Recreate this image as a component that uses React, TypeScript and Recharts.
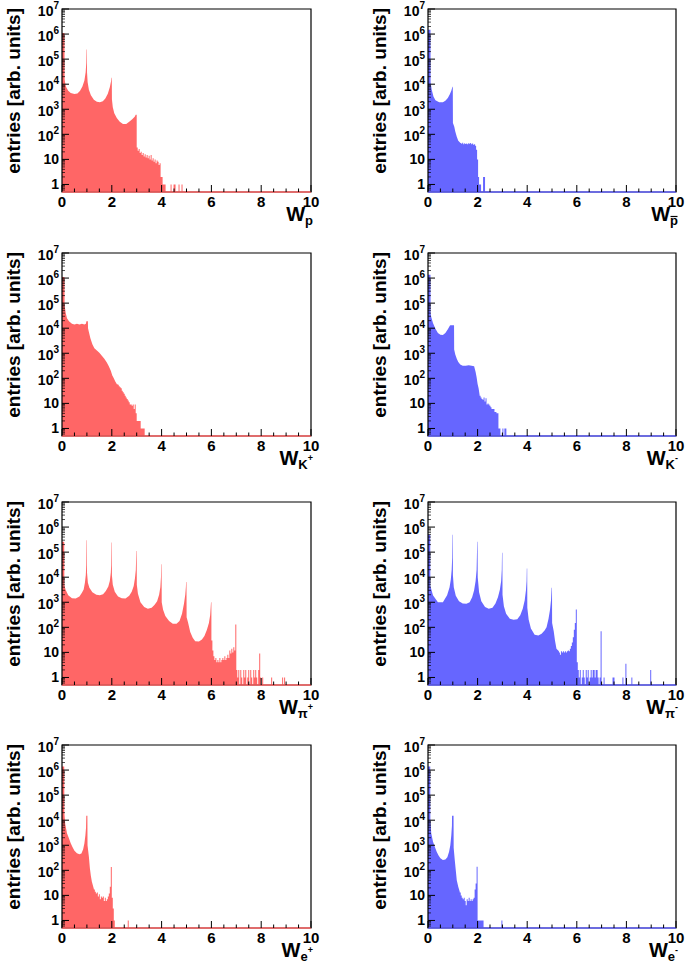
import React from 'react';
import { AreaChart, Area, XAxis, YAxis, ReferenceArea, ReferenceLine } from 'recharts';

type Pt = [number, number | null];

const RED = '#ff6666';
const BLUE = '#6666ff';
const FONT = '"Liberation Sans", Arial, Helvetica, sans-serif';

const Y_MIN = 0.5;
const Y_MAX = 1e7;
const X_MIN = 0;
const X_MAX = 10;
const X_TICKS = [0, 0.5, 1, 1.5, 2, 2.5, 3, 3.5, 4, 4.5, 5, 5.5, 6, 6.5, 7, 7.5, 8, 8.5, 9, 9.5, 10];
const X_LABELED = [0, 2, 4, 6, 8, 10];
const Y_MAJOR = [1, 10, 100, 1e3, 1e4, 1e5, 1e6, 1e7];
const Y_MAJOR_EXP = [0, 1, 2, 3, 4, 5, 6, 7];
const Y_MINOR_MULT = [2, 3, 4, 5, 6, 7, 8, 9];
const Y_BELOW_ONE = [0.6, 0.7, 0.8, 0.9];
const Y_TITLE = 'entries [arb. units]';
const TAIL_BIN = 0.04;

// ---------- p (red) ----------
const P_BODY: Pt[] = [
  [0, 1.1e6], [0.1, 1.1e6], [0.105, 1.6e4], [0.13, 1.1e4], [0.17, 7.5e3], [0.25, 5.5e3],
  [0.35, 4.5e3], [0.5, 4.1e3], [0.62, 4.3e3], [0.72, 5.3e3], [0.82, 8e3], [0.9, 1.4e4], [0.95, 3e4],
  [0.975, 7e4], [0.985, 2.4e5], [1.0, 2.4e5], [1.005, 3e4], [1.03, 1.2e4], [1.08, 6e3], [1.16, 3.6e3],
  [1.28, 2.4e3], [1.4, 2e3], [1.52, 1.9e3], [1.64, 2.1e3], [1.74, 2.7e3], [1.84, 4.2e3], [1.92, 7.5e3],
  [1.97, 1.3e4], [1.985, 1.8e4], [2.0, 1.8e4], [2.005, 2.5e3], [2.04, 1.2e3], [2.1, 7e2], [2.2, 4.5e2],
  [2.32, 3.2e2], [2.45, 2.6e2], [2.58, 2.6e2], [2.7, 3.2e2], [2.82, 4e2], [2.92, 5e2], [2.96, 6e2], [3.0, 6e2],
];
const P_TAIL_START = 3.0;
const P_TAIL = [30, 22, 26, 18, 20, 15, 18, 13, 16, 12, 15, 11, 14, 10, 15, 9, 11, 8, 10, 7, 9, 8, 6, 7, 2, 2, 1, 1, 1, 0, 0, 0, 0, 0, 1, 0, 0, 1, 1, 0, 0, 0, 1, 0, 0, 1];

// ---------- p-bar (blue) ----------
const PBAR_BODY: Pt[] = [
  [0, 1.5e6], [0.1, 1.5e6], [0.105, 1.2e4], [0.15, 6e3], [0.22, 3.2e3],
  [0.3, 2.3e3], [0.45, 1.9e3], [0.6, 1.9e3], [0.7, 2.2e3], [0.8, 2.8e3], [0.88, 4e3], [0.94, 5.5e3],
  [0.98, 7.5e3], [1.0, 8e3], [1.005, 2.8e2], [1.06, 2e2], [1.1, 1.3e2], [1.16, 80], [1.22, 55], [1.3, 46],
];
const PBAR_TAIL_START = 1.3;
const PBAR_TAIL = [45, 42, 46, 40, 44, 41, 43, 40, 44, 42, 45, 40, 43, 38, 40, 35, 24, 10, 2, 1, 1, 0, 0, 2, 2];

// ---------- K+ (red) ----------
const KP_BODY: Pt[] = [
  [0, 1.1e6], [0.1, 1.1e6], [0.105, 8e4], [0.15, 4e4], [0.2, 2.5e4], [0.28, 1.9e4],
  [0.4, 1.5e4], [0.5, 1.4e4], [0.6, 1.5e4], [0.7, 1.4e4], [0.8, 1.5e4], [0.9, 1.4e4], [0.96, 1.5e4],
  [0.98, 1.9e4], [1.04, 1.9e4], [1.045, 1e4], [1.08, 7e3], [1.14, 4e3], [1.22, 2.3e3], [1.3, 1.6e3],
  [1.4, 1.3e3], [1.5, 1.05e3], [1.6, 8e2], [1.7, 6e2], [1.8, 4.3e2], [1.88, 3e2], [1.96, 2e2],
  [2.02, 1.3e2], [2.08, 1e2], [2.14, 75], [2.2, 60],
];
const KP_TAIL_START = 2.2;
const KP_TAIL = [58, 55, 48, 44, 40, 32, 28, 24, 20, 17, 15, 13, 11, 9, 9, 8, 9, 6, 9, 4, 2, 2, 2, 2, 1, 1, 1, 1];

// ---------- K- (blue) ----------
const KM_BODY: Pt[] = [
  [0, 1.35e6], [0.1, 1.35e6], [0.105, 4e4], [0.13, 2.8e4], [0.2, 1.6e4], [0.3, 9.5e3],
  [0.4, 6.5e3], [0.5, 5.5e3], [0.6, 5.3e3], [0.7, 6.5e3], [0.8, 9e3], [0.88, 1.25e4], [0.9, 1.3e4],
  [1.05, 1.3e4], [1.055, 1.4e3], [1.1, 9e2], [1.16, 6e2], [1.22, 4.5e2], [1.3, 3.6e2], [1.4, 3.2e2],
  [1.52, 3.2e2], [1.64, 3.3e2], [1.76, 3.2e2], [1.86, 3e2], [1.92, 1.8e2], [1.96, 1.1e2], [2.0, 60],
  [2.04, 40], [2.08, 22],
];
const KM_TAIL_START = 2.08;
const KM_TAIL = [20, 17, 15, 14, 17, 12, 16, 9, 10, 9, 8, 7, 6, 6, 6, 4.5, 4.5, 4, 4, 1, 1, 0, 0, 1, 0, 1, 1];

// ---------- pi+ (red) ----------
const PIP_BODY: Pt[] = [
  [0, 2.6e5], [0.09, 2.6e5], [0.095, 5e3], [0.14, 3.2e3], [0.25, 1.9e3], [0.4, 1.45e3],
  [0.55, 1.4e3], [0.7, 1.7e3], [0.8, 2.4e3], [0.87, 3.2e3], [0.92, 6e3], [0.955, 1.2e4], [0.975, 3e4],
  [0.985, 3e5], [1.0, 3e5], [1.005, 1.5e4], [1.04, 6e3], [1.1, 3.8e3], [1.22, 2.5e3], [1.38, 2e3],
  [1.52, 1.9e3], [1.65, 2.1e3], [1.76, 2.8e3], [1.86, 4.3e3], [1.92, 7e3], [1.96, 1.5e4], [1.975, 3e4],
  [1.985, 2.4e5], [2.0, 2.4e5], [2.005, 1.2e4], [2.04, 5e3], [2.12, 2.6e3], [2.25, 1.7e3], [2.4, 1.45e3],
  [2.55, 1.4e3], [2.7, 1.8e3], [2.8, 2.6e3], [2.88, 4.5e3], [2.93, 9e3], [2.965, 2e4], [2.985, 1.1e5],
  [3.0, 1.1e5], [3.005, 5e3], [3.05, 2.2e3], [3.15, 1e3], [3.3, 6.5e2], [3.45, 5.5e2], [3.6, 6e2],
  [3.72, 8e2], [3.82, 1.1e3], [3.9, 2e3], [3.95, 4e3], [3.975, 1e4], [3.985, 3.3e4], [4.0, 3.3e4],
  [4.005, 1e3], [4.06, 5e2], [4.15, 2.8e2], [4.3, 1.8e2], [4.45, 1.4e2], [4.6, 1.4e2], [4.72, 1.8e2],
  [4.82, 3.5e2], [4.9, 9e2], [4.95, 2e3], [4.975, 4e3], [4.985, 6.5e3], [5.0, 6.5e3], [5.005, 2.5e2],
  [5.06, 1.6e2], [5.15, 65], [5.25, 38], [5.35, 28], [5.5, 27], [5.62, 33], [5.72, 45], [5.82, 80],
  [5.9, 1.5e2], [5.95, 3e2], [5.985, 1e3], [6.0, 1e3],
];
const PIP_TAIL_START = 6.0;
const PIP_TAIL = [
  30, 12, 7, 5, 6, 4, 5, 4, 6, 4, 5, 6, 5, 7, 5, 6, 8, 6, 12, 9, 14, 10, 16, 12, 130,
  2, 1, 2, 0, 2, 1, 0, 2, 1, 2, 0, 1, 2, 0, 2, 1, 0, 2, 1, 2, 1, 0, 2, 9, 1,
  0, 1, 0, 0, 0, 0, 0, 0, 0, 0, 1, 0, 0, 0, 0, 0, 0, 0, 0, 0, 0, 1, 0, 1,
];

// ---------- pi- (blue) ----------
const PIM_BODY: Pt[] = [
  [0, 4.9e5], [0.09, 4.9e5], [0.095, 4.5e3], [0.2, 1.9e3], [0.4, 1e3], [0.6, 1e3],
  [0.77, 1.9e3], [0.87, 4e3], [0.92, 8e3], [0.955, 2e4], [0.975, 6e4], [0.985, 4.9e5], [1.0, 4.9e5],
  [1.005, 1.2e4], [1.04, 4e3], [1.12, 1.8e3], [1.25, 1.1e3], [1.4, 9e2], [1.55, 8.8e2], [1.68, 1e3],
  [1.78, 1.6e3], [1.86, 3e3], [1.92, 7e3], [1.96, 2e4], [1.985, 2.6e5], [2.0, 2.6e5], [2.005, 1e4],
  [2.06, 2.5e3], [2.15, 1.1e3], [2.3, 6.5e2], [2.45, 5.5e2], [2.6, 6e2], [2.72, 9e2], [2.82, 1.6e3],
  [2.9, 3.2e3], [2.95, 7e3], [2.975, 2e4], [2.985, 9.5e4], [3.0, 9.5e4], [3.005, 2e3], [3.06, 7e2],
  [3.15, 3.5e2], [3.3, 2.2e2], [3.45, 2e2], [3.6, 2.1e2], [3.72, 3e2], [3.82, 5.5e2], [3.9, 1.2e3],
  [3.95, 3e3], [3.975, 7e3], [3.985, 2.2e4], [4.0, 2.2e4], [4.005, 6e2], [4.06, 2e2], [4.15, 90],
  [4.3, 50], [4.45, 47], [4.58, 55], [4.7, 75], [4.78, 1e2], [4.86, 2.2e2], [4.92, 5e2], [4.96, 1.2e3],
  [4.985, 3.8e3], [5.0, 3.8e3], [5.005, 1.5e2], [5.07, 70], [5.12, 30], [5.18, 14], [5.28, 11],
];
const PIM_TAIL_START = 5.28;
const PIM_TAIL = [
  10, 8, 11, 10, 11, 10, 11, 10, 11, 12, 11, 14, 18, 25, 40, 80, 150, 510,
  4, 2, 1, 2, 0, 1, 2, 1, 0, 2, 1, 2, 0, 1, 2, 1, 2, 2, 1, 2, 2, 1, 0, 1, 70,
  0, 0, 1, 0, 0, 0, 0, 0, 0, 0, 0, 1, 1, 0, 0, 0, 0, 0, 0, 0, 0, 1, 0, 0, 3.5,
  0, 0, 0, 0, 0, 1, 0, 0, 0, 0, 0, 0, 0, 0, 0, 0, 0, 0, 0, 0, 0, 0, 0, 0, 2,
];

// ---------- e+ (red) ----------
const EP_BODY: Pt[] = [
  [0, 1.4e6], [0.09, 1.4e6], [0.095, 2e4], [0.13, 7e3], [0.2, 3e3],
  [0.27, 2e3], [0.35, 1.2e3], [0.42, 8.5e2], [0.5, 6e2], [0.6, 4.8e2], [0.7, 4.4e2], [0.78, 4.7e2],
  [0.85, 7e2], [0.9, 1.2e3], [0.94, 2.5e3], [0.965, 5e3], [0.975, 1.5e4], [1.02, 1.5e4], [1.025, 1e3],
  [1.08, 3.5e2], [1.12, 1.2e2], [1.16, 60], [1.2, 35], [1.28, 18],
];
const EP_TAIL_START = 1.28;
const EP_TAIL = [17, 14, 12, 13, 9, 11, 7, 9, 8, 9, 6, 8, 6, 7, 9, 12, 22, 135, 8, 3, 1, 0, 0, 0, 0, 0, 0, 0, 0, 0, 0, 0, 0, 0, 1];

// ---------- e- (blue) ----------
const EM_BODY: Pt[] = [
  [0, 1.4e6], [0.09, 1.4e6], [0.095, 1.2e4], [0.13, 3e3], [0.2, 1.4e3],
  [0.27, 9e2], [0.35, 5.5e2], [0.42, 4e2], [0.5, 3e2], [0.6, 2.6e2], [0.7, 2.7e2], [0.78, 3.3e2],
  [0.85, 5.5e2], [0.9, 1e3], [0.94, 2.5e3], [0.965, 6e3], [0.97, 1.5e4], [1.03, 1.5e4], [1.035, 8e2],
  [1.08, 2.5e2], [1.12, 1e2], [1.16, 40], [1.22, 22], [1.28, 14],
];
const EM_TAIL_START = 1.28;
const EM_TAIL = [13, 10, 8, 7, 8, 6, 4, 7, 6, 8, 6, 7, 6, 7, 8, 17, 30, 140, 1, 1, 1, 1, 1, 1, 0, 0, 0, 0, 0, 0, 0, 0, 0, 0, 0, 0, 0, 0, 0, 0, 0, 0, 1];

// ---------- layout ----------
const COL_LEFT = [0, 366];
const PLOT_W = [249, 248];
const PLOT_TOP = [9, 253, 502, 745];
const PLOT_H = 183;
const CHART_W = 340;
const CHART_H = 240;
const MT = 8;
const YW = 62;

type Panel = {
  body: Pt[]; tailStart: number; tail: number[]; color: string;
  row: number; col: number; sub: string; sup: string; bar?: boolean;
};

const PANELS: Panel[] = [
  { body: P_BODY, tailStart: P_TAIL_START, tail: P_TAIL, color: RED, row: 0, col: 0, sub: 'p', sup: '' },
  { body: PBAR_BODY, tailStart: PBAR_TAIL_START, tail: PBAR_TAIL, color: BLUE, row: 0, col: 1, sub: 'p', sup: '', bar: true },
  { body: KP_BODY, tailStart: KP_TAIL_START, tail: KP_TAIL, color: RED, row: 1, col: 0, sub: 'K', sup: '+' },
  { body: KM_BODY, tailStart: KM_TAIL_START, tail: KM_TAIL, color: BLUE, row: 1, col: 1, sub: 'K', sup: '-' },
  { body: PIP_BODY, tailStart: PIP_TAIL_START, tail: PIP_TAIL, color: RED, row: 2, col: 0, sub: 'π', sup: '+' },
  { body: PIM_BODY, tailStart: PIM_TAIL_START, tail: PIM_TAIL, color: BLUE, row: 2, col: 1, sub: 'π', sup: '-' },
  { body: EP_BODY, tailStart: EP_TAIL_START, tail: EP_TAIL, color: RED, row: 3, col: 0, sub: 'e', sup: '+' },
  { body: EM_BODY, tailStart: EM_TAIL_START, tail: EM_TAIL, color: BLUE, row: 3, col: 1, sub: 'e', sup: '-' },
];

const Y_TICKS: number[] = [
  ...Y_BELOW_ONE,
  ...Y_MAJOR,
  ...Y_MAJOR.slice(0, -1).flatMap((d) => Y_MINOR_MULT.map((m) => d * m)),
];

function buildSeries(body: Pt[], tailStart: number, tail: number[]) {
  const out: { x: number; y: number | null }[] = body.map(([x, y]) => ({ x, y }));
  tail.forEach((v, i) => {
    const x0 = Math.round((tailStart + i * TAIL_BIN) * 1000) / 1000;
    const x1 = Math.round((tailStart + (i + 1) * TAIL_BIN) * 1000) / 1000;
    if (v > 0) {
      out.push({ x: x0, y: v }, { x: x1, y: v });
    } else {
      out.push({ x: x0, y: null });
    }
  });
  return out;
}

const XTick = (props: any) => {
  const { x, y, payload } = props;
  const v = payload.value;
  const major = X_LABELED.includes(v);
  return (
    <g>
      <line x1={x} y1={y} x2={x} y2={y - (major ? 7 : 3.5)} stroke="#000" strokeWidth={1} />
      {major && (
        <text x={x} y={y + 15} textAnchor="middle" fontFamily={FONT} fontWeight="bold" fontSize={15} fill="#000">
          {v}
        </text>
      )}
    </g>
  );
};

const YTick = (props: any) => {
  const { x, y, payload } = props;
  const v = payload.value;
  const idx = Y_MAJOR.indexOf(v);
  const major = idx >= 0;
  const exp = major ? Y_MAJOR_EXP[idx] : 0;
  return (
    <g>
      <line x1={x} y1={y} x2={x + (major ? 7 : 3)} y2={y} stroke="#000" strokeWidth={major ? 1 : 0.7} />
      {major && exp < 2 && (
        <text x={x - 3} y={y + 5} textAnchor="end" fontFamily={FONT} fontWeight="bold" fontSize={14} fill="#000">
          {exp === 0 ? '1' : '10'}
        </text>
      )}
      {major && exp >= 2 && (
        <text x={x - 3} y={y + 6.5} textAnchor="end" fontFamily={FONT} fontWeight="bold" fontSize={14} fill="#000">
          <tspan>10</tspan>
          <tspan fontSize={10} dy={-7}>{exp}</tspan>
        </text>
      )}
    </g>
  );
};

function PanelChart({ p }: { p: Panel }) {
  const data = buildSeries(p.body, p.tailStart, p.tail);
  const pw = PLOT_W[p.col];
  const plotRight = YW + pw;
  const plotBottom = MT + PLOT_H;
  const xTitle = () => (
    <g>
      <text x={plotRight + 2} y={plotBottom + 29} textAnchor="end" fontFamily={FONT} fontWeight="bold" fill="#000">
        <tspan fontSize={20}>W</tspan>
        <tspan fontSize={13} dy={4}>{p.sub}</tspan>
        {p.sup ? <tspan fontSize={9} dy={-8}>{p.sup}</tspan> : null}
      </text>
      {p.bar ? (
        <line x1={plotRight - 5.5} x2={plotRight + 1.5} y1={plotBottom + 24.5} y2={plotBottom + 24.5} stroke="#000" strokeWidth={1.2} />
      ) : null}
    </g>
  );
  const yTitle = () => (
    <text
      transform={`translate(20, ${MT - 1}) rotate(-90)`}
      textAnchor="end"
      fontFamily={FONT}
      fontWeight="bold"
      fontSize={19}
      fill="#000"
    >
      {Y_TITLE}
    </text>
  );
  return (
    <div style={{ position: 'absolute', left: COL_LEFT[p.col], top: PLOT_TOP[p.row] - MT }}>
      <AreaChart
        width={CHART_W}
        height={CHART_H}
        data={data}
        margin={{ top: MT, right: CHART_W - YW - pw, bottom: 0, left: 0 }}
      >
        <Area
          dataKey="y"
          type="linear"
          stroke="none"
          fill={p.color}
          fillOpacity={1}
          baseValue={Y_MIN}
          connectNulls={false}
          dot={false}
          activeDot={false}
          isAnimationActive={false}
        />
        <ReferenceArea x1={X_MIN} x2={X_MAX} y1={Y_MIN} y2={Y_MAX} fill="none" stroke="#000" strokeWidth={1.2} ifOverflow="visible" zIndex={450} />
        <ReferenceLine y={Y_MIN} stroke={p.color} strokeWidth={1.3} ifOverflow="visible" zIndex={460} />
        <XAxis
          dataKey="x"
          type="number"
          domain={[X_MIN, X_MAX]}
          ticks={X_TICKS}
          interval={0}
          allowDataOverflow
          axisLine={false}
          tickLine={false}
          tickSize={0}
          tickMargin={0}
          height={CHART_H - MT - PLOT_H}
          tick={XTick}
          label={xTitle}
        />
        <YAxis
          type="number"
          scale="log"
          domain={[Y_MIN, Y_MAX]}
          ticks={Y_TICKS}
          interval={0}
          allowDataOverflow
          axisLine={false}
          tickLine={false}
          tickSize={0}
          tickMargin={0}
          width={YW}
          tick={YTick}
          label={yTitle}
        />
      </AreaChart>
    </div>
  );
}

export default function App() {
  return (
    <div style={{ position: 'absolute', left: 0, top: 0, width: 685, height: 968, background: '#fff' }}>
      {PANELS.map((p, i) => (
        <PanelChart key={i} p={p} />
      ))}
    </div>
  );
}
